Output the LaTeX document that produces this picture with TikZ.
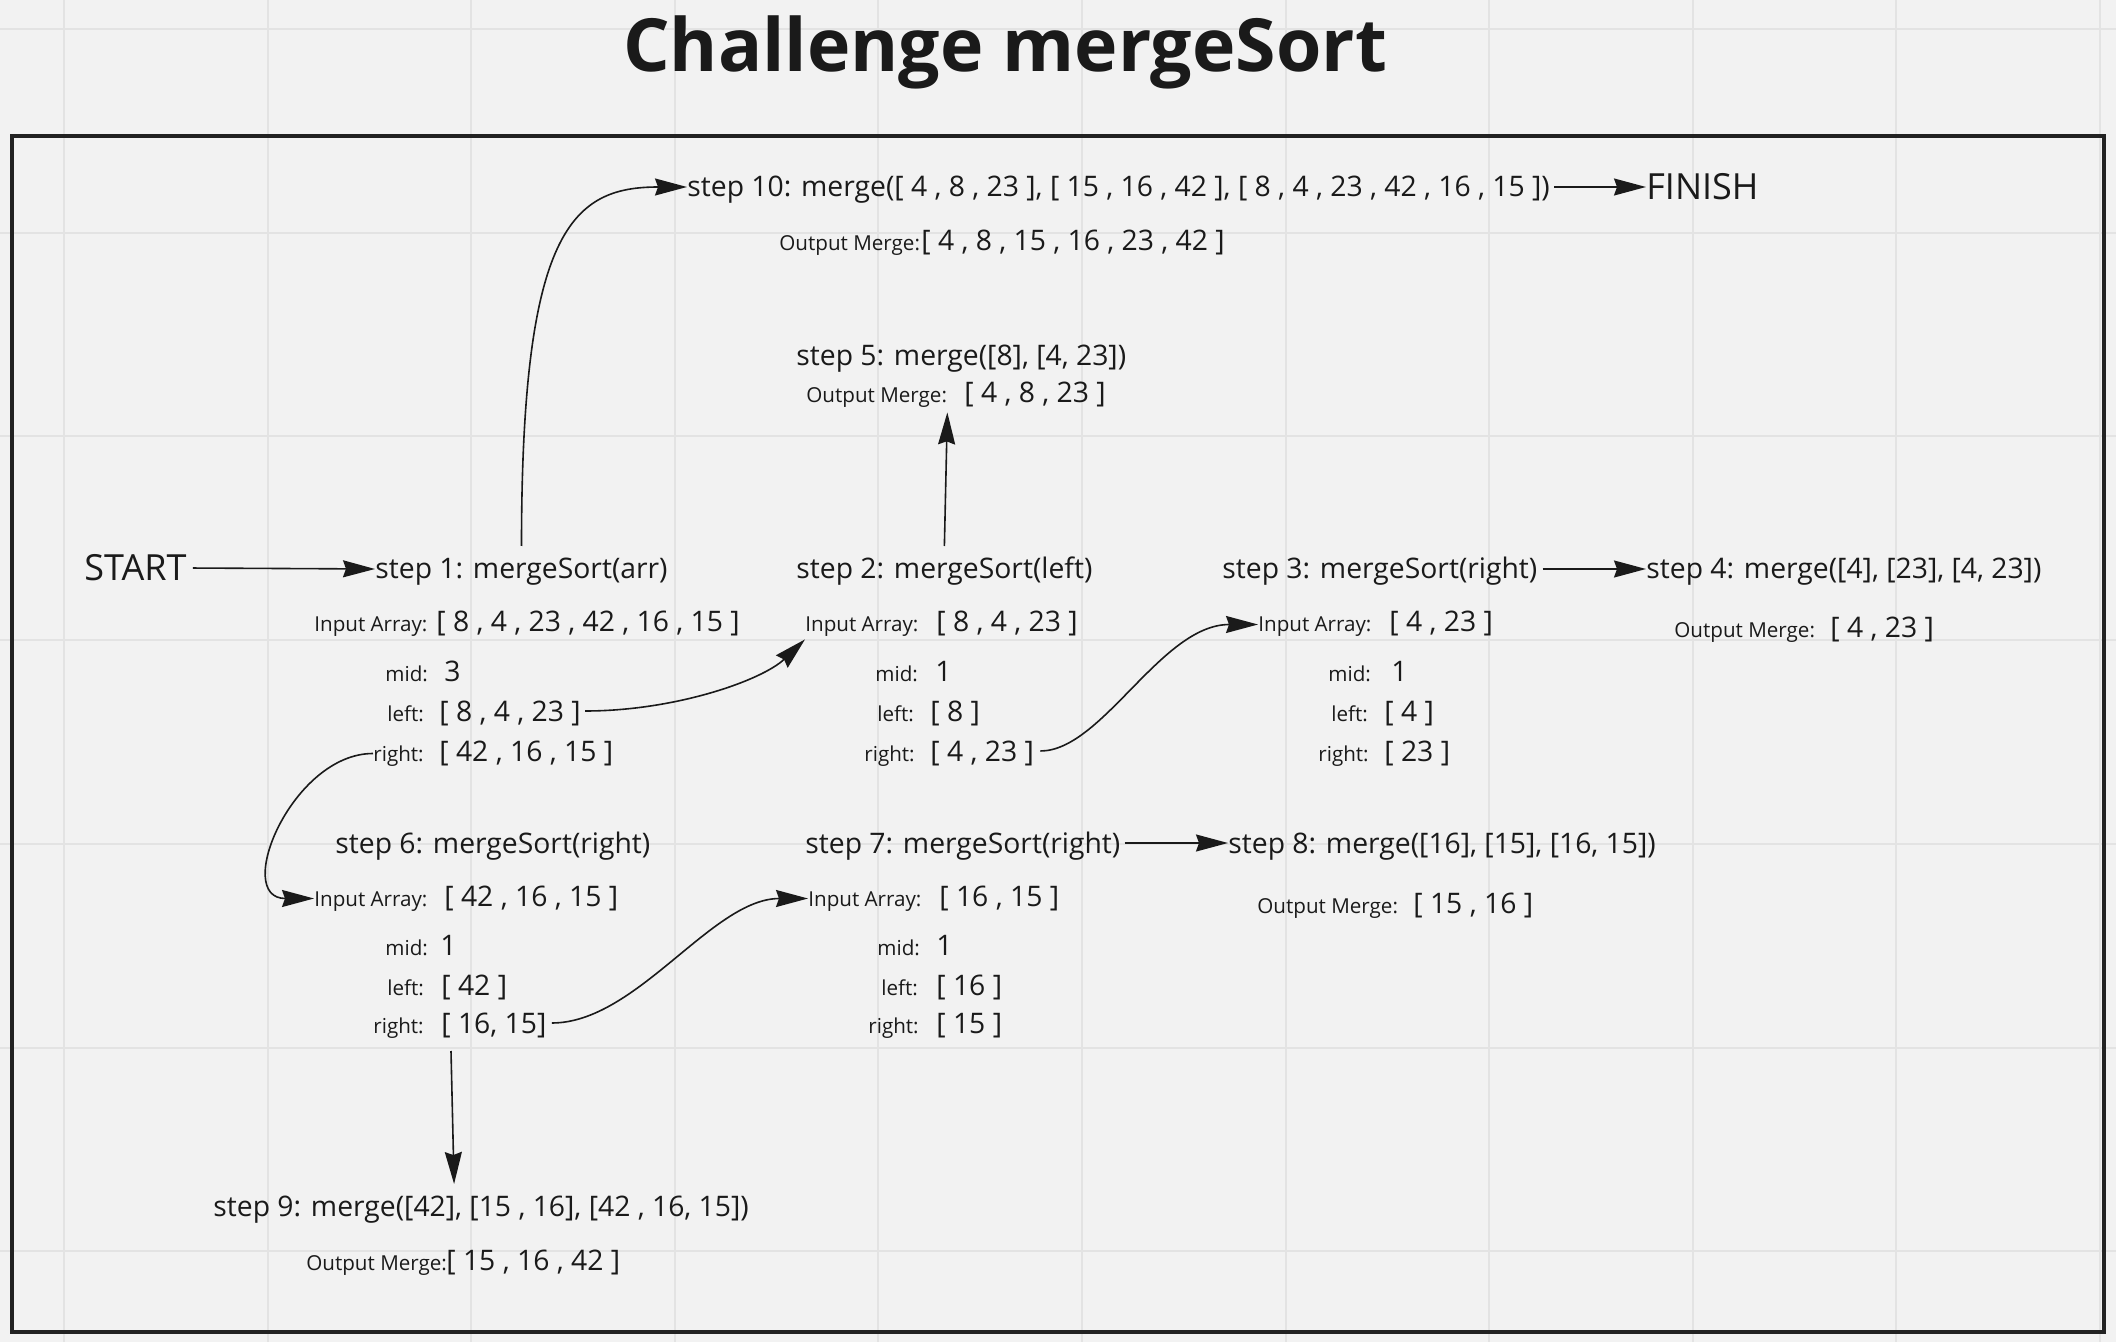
\documentclass[tikz,border=0pt]{standalone}
\usepackage{fontspec}
\setmainfont{Open Sans}
\usetikzlibrary{arrows.meta}
\definecolor{bg}{HTML}{F2F2F2}
\definecolor{gridc}{HTML}{E3E3E3}
\definecolor{ink}{HTML}{1A1A1A}
\definecolor{framec}{HTML}{222222}
\begin{document}
\begin{tikzpicture}[x=0.5pt,y=-0.5pt,
  txt/.style={anchor=base west, inner sep=0pt, text=ink, font=\fontsize{14.15pt}{16pt}\selectfont, text height=12.8pt, text depth=2.8pt},
  lbl/.style={anchor=base west, inner sep=0pt, text=ink, font=\fontsize{10.3pt}{12pt}\selectfont, text height=11pt, text depth=3.5pt},
  bigtxt/.style={anchor=base west, inner sep=0pt, text=ink, font=\fontsize{18pt}{20pt}\selectfont, text height=16pt, text depth=3pt},
  ttl/.style={anchor=base, inner sep=0pt, text=ink, font=\fontsize{36.7pt}{42pt}\selectfont\bfseries},
  arr/.style={draw=ink, line width=0.8pt, -{Stealth[length=16pt,width=8.5pt,inset=1.5pt]}},
  gridline/.style={draw=gridc, line width=1pt}
]
\useasboundingbox (0,0) rectangle (2116,1342);
\fill[bg] (0,0) rectangle (2116,1342);
\foreach \gx in {0,...,10} \draw[gridline] ({64+203.6*\gx},0) -- ({64+203.6*\gx},1342);
\foreach \gy in {0,...,6} \draw[gridline] (0,{29+203.7*\gy}) -- (2116,{29+203.7*\gy});
\draw[framec, line width=2pt] (12,136) rectangle (2104,1332);

\node[ttl] (title) at (1005,72) {Challenge mergeSort};

% step 10
\node[txt] (s10) at (687,197) {step 10: merge([ 4 , 8 , 23 ], [ 15 , 16 , 42 ], [ 8 , 4 , 23 , 42 , 16 , 15 ])};
\node[bigtxt] (finish) at (1646,200) {FINISH};
\node[lbl] (o10l) at (779,251) {Output Merge:};
\node[txt] (o10v) at (921,251) {[ 4 , 8 , 15 , 16 , 23 , 42 ]};

% step 5
\node[txt] (s5) at (796,366) {step 5: merge([8], [4, 23])};
\node[lbl] (o5l) at (806,403) {Output Merge:};
\node[txt] (o5v) at (964,403) {[ 4 , 8 , 23 ]};

% start, step 1
\node[bigtxt] (start) at (84,581) {START};
\node[txt] (s1) at (375,579) {step 1: mergeSort(arr)};
\node[lbl] (in1l) at (314,632) {Input Array:};
\node[txt] (in1v) at (436,632) {[ 8 , 4 , 23 , 42 , 16 , 15 ]};
\node[lbl] (mid1l) at (385,681) {mid:};
\node[txt] (mid1v) at (444,681) {3};
\node[lbl] (l1l) at (387,721) {left:};
\node[txt] (l1v) at (439,721) {[ 8 , 4 , 23 ]};
\node[lbl] (r1l) at (373,761) {right:};
\node[txt] (r1v) at (439,761) {[ 42 , 16 , 15 ]};

% step 2
\node[txt] (s2) at (796,579) {step 2: mergeSort(left)};
\node[lbl] (in2l) at (805,632) {Input Array:};
\node[txt] (in2v) at (936,632) {[ 8 , 4 , 23 ]};
\node[lbl] (mid2l) at (875,681) {mid:};
\node[txt] (mid2v) at (935,681) {1};
\node[lbl] (l2l) at (877,721) {left:};
\node[txt] (l2v) at (930,721) {[ 8 ]};
\node[lbl] (r2l) at (864,761) {right:};
\node[txt] (r2v) at (930,761) {[ 4 , 23 ]};

% step 3
\node[txt] (s3) at (1222,579) {step 3: mergeSort(right)};
\node[lbl] (in3l) at (1258,632) {Input Array:};
\node[txt] (in3v) at (1389,632) {[ 4 , 23 ]};
\node[lbl] (mid3l) at (1328,681) {mid:};
\node[txt] (mid3v) at (1391,681) {1};
\node[lbl] (l3l) at (1331,721) {left:};
\node[txt] (l3v) at (1384,721) {[ 4 ]};
\node[lbl] (r3l) at (1318,761) {right:};
\node[txt] (r3v) at (1384,761) {[ 23 ]};

% step 4
\node[txt] (s4) at (1646,579) {step 4: merge([4], [23], [4, 23])};
\node[lbl] (o4l) at (1674,637) {Output Merge:};
\node[txt] (o4v) at (1830,637) {[ 4 , 23 ]};

% step 6
\node[txt] (s6) at (335,853) {step 6: mergeSort(right)};
\node[lbl] (in6l) at (314,906) {Input Array:};
\node[txt] (in6v) at (444,906) {[ 42 , 16 , 15 ]};
\node[lbl] (mid6l) at (385,955) {mid:};
\node[txt] (mid6v) at (440,955) {1};
\node[lbl] (l6l) at (387,995) {left:};
\node[txt] (l6v) at (441,995) {[ 42 ]};
\node[lbl] (r6l) at (373,1033) {right:};
\node[txt] (r6v) at (441,1033) {[ 16, 15]};

% step 7
\node[txt] (s7) at (805,853) {step 7: mergeSort(right)};
\node[lbl] (in7l) at (808,906) {Input Array:};
\node[txt] (in7v) at (939,906) {[ 16 , 15 ]};
\node[lbl] (mid7l) at (877,955) {mid:};
\node[txt] (mid7v) at (936,955) {1};
\node[lbl] (l7l) at (881,995) {left:};
\node[txt] (l7v) at (936,995) {[ 16 ]};
\node[lbl] (r7l) at (868,1033) {right:};
\node[txt] (r7v) at (936,1033) {[ 15 ]};

% step 8
\node[txt] (s8) at (1228,853) {step 8: merge([16], [15], [16, 15])};
\node[lbl] (o8l) at (1257,913) {Output Merge:};
\node[txt] (o8v) at (1413,913) {[ 15 , 16 ]};

% step 9
\node[txt] (s9) at (213,1216) {step 9: merge([42], [15 , 16], [42 , 16, 15])};
\node[lbl] (o9l) at (306,1270) {Output Merge:};
\node[txt] (o9v) at (446,1270) {[ 15 , 16 , 42 ]};

% connectors
\draw[arr, shorten <=3pt] (start.east) -- (s1.west);
\draw[arr, shorten <=2.5pt] (s3.east) -- (s4.west);
\draw[arr, shorten <=2pt] (s7.east) -- (s8.west);
\draw[arr, shorten <=2pt] (s10.east) -- (finish.west);
\draw[arr] ([yshift=3.5pt]s1.north) .. controls +(0,-316) and +(-115,0) .. (s10.west);
\draw[arr] ([yshift=3.5pt]s2.north) -- ([yshift=-1pt]o5l.south east);
\draw[arr, shorten <=2pt] (l1v.east) .. controls +(94,0) and +(-43,41) .. (in2l.south west);
\draw[arr] (r1l.west) .. controls +(-81,0) and +(-82,0) .. (in6l.west);
\draw[arr, shorten <=3pt] (r2v.east) .. controls +(68,0) and +(-97,0) .. (in3l.west);
\draw[arr, shorten <=2.5pt] (r6v.east) .. controls +(90,0) and +(-96,0) .. (in7l.west);
\draw[arr] ([xshift=5pt,yshift=-6pt]r6v.south west) -- ([xshift=-13.5pt,yshift=3pt]s9.north);
\end{tikzpicture}
\end{document}
